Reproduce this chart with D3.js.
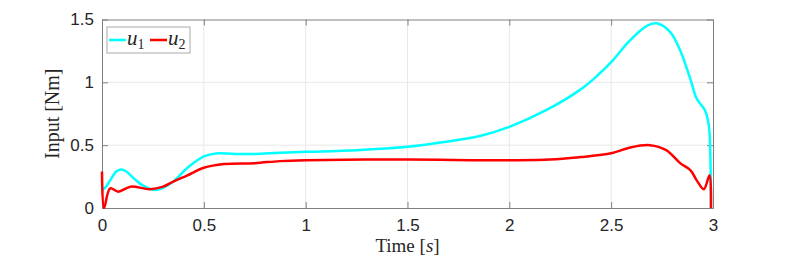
<!DOCTYPE html>
<html>
<head>
<meta charset="utf-8">
<script src="https://cdn.jsdelivr.net/npm/d3@7"></script>
<style>
  body { margin: 0; background: #fff; }
  .tick text { font-family: "Liberation Sans", Arial, sans-serif; font-size: 17px; fill: #262626; }
</style>
</head>
<body>
<div id="chart"></div>
<script>
// data (time in s, input in Nm)
var timeU1 = [0, 0.02, 0.04, 0.07, 0.093, 0.12, 0.16, 0.2, 0.26, 0.3, 0.35, 0.42, 0.5, 0.56, 0.65, 0.75, 0.873, 1.0, 1.25, 1.5, 1.69, 1.86, 2.0, 2.183, 2.347, 2.43, 2.5, 2.59, 2.675, 2.723, 2.79, 2.84, 2.89, 2.92, 2.96, 2.975, 2.983, 2.99];
var valU1 = [0.14, 0.17, 0.22, 0.29, 0.307, 0.29, 0.23, 0.18, 0.143, 0.16, 0.21, 0.32, 0.41, 0.434, 0.43, 0.43, 0.44, 0.447, 0.46, 0.487, 0.527, 0.575, 0.645, 0.78, 0.94, 1.05, 1.16, 1.33, 1.45, 1.47, 1.40, 1.25, 1.02, 0.87, 0.78, 0.70, 0.6, 0];

var timeU2 = [0, 0.01, 0.04, 0.08, 0.14, 0.235, 0.3, 0.35, 0.42, 0.5, 0.6, 0.75, 0.873, 1.0, 1.5, 1.86, 2.0, 2.2, 2.347, 2.5, 2.59, 2.69, 2.77, 2.84, 2.89, 2.92, 2.955, 2.983, 2.99];
var valU2 = [0.29, 0, 0.156, 0.13, 0.17, 0.15, 0.17, 0.21, 0.26, 0.32, 0.35, 0.357, 0.373, 0.38, 0.386, 0.38, 0.38, 0.385, 0.405, 0.435, 0.48, 0.5, 0.46, 0.355, 0.30, 0.22, 0.15, 0.26, 0];

var xTicks = [0, 0.5, 1, 1.5, 2, 2.5, 3];
var yTicks = [0, 0.5, 1, 1.5];

var width = 789, height = 259;
var plotLeft = 102, plotRight = 713, plotTop = 19.5, plotBottom = 208;
var serif = '"Liberation Serif", "DejaVu Serif", serif';

var svg = d3.select("#chart").append("svg")
    .attr("width", width)
    .attr("height", height);

var xScale = d3.scaleLinear().domain([0, 3]).range([plotLeft, plotRight]);
var yScale = d3.scaleLinear().domain([0, 1.5]).range([plotBottom, plotTop]);

// grid
svg.append("g")
    .selectAll("line")
    .data(xTicks.slice(1, -1))
    .enter().append("line")
    .attr("x1", function(d) { return xScale(d); })
    .attr("x2", function(d) { return xScale(d); })
    .attr("y1", plotTop).attr("y2", plotBottom)
    .attr("stroke", "#e8e8e8").attr("stroke-width", 1);
svg.append("g")
    .selectAll("line")
    .data(yTicks.slice(1, -1))
    .enter().append("line")
    .attr("y1", function(d) { return yScale(d); })
    .attr("y2", function(d) { return yScale(d); })
    .attr("x1", plotLeft).attr("x2", plotRight)
    .attr("stroke", "#e8e8e8").attr("stroke-width", 1);

// axes (ticks point inward, like matlab)
var fmt = function(d) { return d3.format("")(d); };
var xAxis = d3.axisBottom(xScale).tickValues(xTicks).tickSizeInner(-6).tickSizeOuter(0).tickPadding(11).tickFormat(fmt);
var yAxis = d3.axisLeft(yScale).tickValues(yTicks).tickSizeInner(-6).tickSizeOuter(0).tickPadding(8).tickFormat(fmt);

svg.append("g").attr("transform", `translate(0, ${plotBottom})`).call(xAxis);
svg.append("g").attr("transform", `translate(${plotLeft}, 0)`).call(yAxis);
svg.append("g").attr("transform", `translate(0, ${plotTop})`)
    .call(d3.axisTop(xScale).tickValues(xTicks).tickSizeInner(-6).tickSizeOuter(0).tickFormat(""));
svg.append("g").attr("transform", `translate(${plotRight}, 0)`)
    .call(d3.axisRight(yScale).tickValues(yTicks).tickSizeInner(-6).tickSizeOuter(0).tickFormat(""));

svg.selectAll(".domain").attr("stroke", "#808080");
svg.selectAll(".tick line").attr("stroke", "#808080");

// lines
var line = d3.line()
    .x(function(d) { return xScale(d[0]); })
    .y(function(d) { return yScale(d[1]); })
    .curve(d3.curveCatmullRom.alpha(0.5));

svg.append("path")
    .datum(d3.zip(timeU1, valU1))
    .attr("d", line)
    .attr("fill", "none").attr("stroke", "#00ffff").attr("stroke-width", 2.5);

svg.append("path")
    .datum(d3.zip(timeU2, valU2))
    .attr("d", line)
    .attr("fill", "none").attr("stroke", "#ff0000").attr("stroke-width", 2.5);

// axis labels
var xLabel = svg.append("text")
    .attr("x", (plotLeft + plotRight) / 2).attr("y", 252)
    .attr("text-anchor", "middle")
    .attr("font-family", serif).attr("font-size", 19).attr("fill", "#262626");
xLabel.append("tspan").text("Time [");
xLabel.append("tspan").attr("font-style", "italic").text("s");
xLabel.append("tspan").text("]");

svg.append("text")
    .attr("transform", `translate(59, ${(plotTop + plotBottom) / 2}) rotate(-90)`)
    .attr("text-anchor", "middle")
    .attr("font-family", serif).attr("font-size", 20).attr("fill", "#262626")
    .text("Input [Nm]");

// legend
var legend = svg.append("g");
legend.append("rect")
    .attr("x", 107).attr("y", 27).attr("width", 83).attr("height", 26)
    .attr("fill", "#fff").attr("stroke", "#aaaaaa").attr("stroke-width", 1);

var legendItems = [
  { name: "u", sub: "1", color: "#00ffff", x: 109 },
  { name: "u", sub: "2", color: "#ff0000", x: 150 }
];
legendItems.forEach(function(d) {
    legend.append("line")
        .attr("x1", d.x).attr("x2", d.x + 17)
        .attr("y1", 40).attr("y2", 40)
        .attr("stroke", d.color).attr("stroke-width", 2.5);
    var t = legend.append("text")
        .attr("x", d.x + 18).attr("y", 45)
        .attr("font-family", serif).attr("fill", "#262626");
    t.append("tspan").attr("font-style", "italic").attr("font-size", 21).text(d.name);
    t.append("tspan").attr("font-size", 14).attr("dy", 4).text(d.sub);
});
</script>
</body>
</html>
